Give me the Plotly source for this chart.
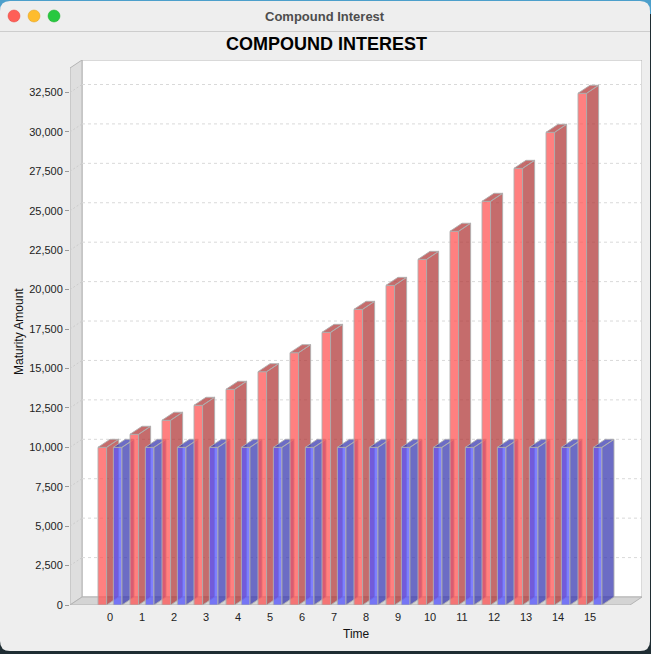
import plotly.graph_objects as go

# ---------------- data ----------------
time_labels = [str(t) for t in range(16)]
time_pos = list(range(16))
compound_values = [10000, 10825, 11715, 12665, 13680, 14795, 16000, 17290,
                   18750, 20270, 21920, 23700, 25600, 27690, 29975, 32450]
principal_values = [10000] * 16
y_ticks = [0, 2500, 5000, 7500, 10000, 12500, 15000, 17500, 20000,
           22500, 25000, 27500, 30000, 32500]

# ---------------- geometry ----------------
W_FIG, H_FIG = 651, 654
L_PX, R_PX, T_PX, B_PX = 70, 642, 60, 605
PW, PH = R_PX - L_PX, B_PX - T_PX
X_RANGE = [-1.25, 16.625]
Y_RANGE = [0, 34560]
XU = PW / (X_RANGE[1] - X_RANGE[0])        # px per x unit
YU = PH / (Y_RANGE[1] - Y_RANGE[0])        # px per y unit
DX = 12 / XU                                # 3D depth offset in data units
DY = 8 / YU
X_FRONT_RIGHT = X_RANGE[1] - DX

def pxx(px):
    return (px - L_PX) / PW

def pxy(py):
    return (B_PX - py) / PH

series = [
    dict(values=compound_values, off=-0.375,
         front="rgba(255,85,85,0.75)", side="rgba(178,59,59,0.75)"),
    dict(values=principal_values, off=0.105,
         front="rgba(85,85,255,0.75)", side="rgba(59,59,178,0.75)"),
]
BW = 0.27
OUTLINE = "rgba(175,175,175,0.9)"
FONT = "Liberation Sans, Arial, sans-serif"

fig = go.Figure()

for k, xp in enumerate(time_pos):
    for s in series:
        v = s["values"][k]
        xl = xp + s["off"]
        xr = xl + BW
        # front face
        fig.add_trace(go.Scatter(
            x=[xl, xr, xr, xl, xl], y=[0, 0, v, v, 0],
            mode="lines", fill="toself", fillcolor=s["front"],
            line=dict(color=OUTLINE, width=1), hoverinfo="skip", showlegend=False))
        # side and top faces
        fig.add_trace(go.Scatter(
            x=[xr, xr + DX, xr + DX, xr, xr, None,
               xl, xr, xr + DX, xl + DX, xl],
            y=[0, DY, v + DY, v, 0, None,
               v, v, v + DY, v + DY, v],
            mode="lines", fill="toself", fillcolor=s["side"],
            line=dict(color=OUTLINE, width=1), hoverinfo="skip", showlegend=False))

shapes = []

# desktop strip + window
shapes.append(dict(type="rect", xref="paper", yref="paper", layer="below",
                   x0=pxx(0), x1=pxx(651), y0=pxy(0), y1=pxy(14),
                   fillcolor="#4c9fcb", line=dict(width=0)))
rxp, ryp = 10 / PW, 10 / PH
wx0, wx1, wy0, wy1 = pxx(0), pxx(650), pxy(651), pxy(1)
path = (f"M {wx0+rxp},{wy1} L {wx1-rxp},{wy1} Q {wx1},{wy1} {wx1},{wy1-ryp} "
        f"L {wx1},{wy0+ryp} Q {wx1},{wy0} {wx1-rxp},{wy0} "
        f"L {wx0+rxp},{wy0} Q {wx0},{wy0} {wx0},{wy0+ryp} "
        f"L {wx0},{wy1-ryp} Q {wx0},{wy1} {wx0+rxp},{wy1} Z")
shapes.append(dict(type="path", xref="paper", yref="paper", layer="below",
                   path=path, fillcolor="#eeeeee", line=dict(width=0)))
shapes.append(dict(type="line", xref="paper", yref="paper", layer="below",
                   x0=pxx(0), x1=pxx(650), y0=pxy(31.5), y1=pxy(31.5),
                   line=dict(color="#cdcdcd", width=1)))
for cx, col, lc in [(14, "#fe5f57", "#e0443e"), (34, "#febc2e", "#dea123"),
                    (54, "#28c840", "#1aab29")]:
    shapes.append(dict(type="circle", xref="paper", yref="paper",
                       x0=pxx(cx - 6), x1=pxx(cx + 6), y0=pxy(22), y1=pxy(10),
                       fillcolor=col, line=dict(color=lc, width=0.5)))

# back wall
shapes.append(dict(type="rect", xref="x", yref="y", layer="below",
                   x0=X_RANGE[0] + DX, x1=X_RANGE[1], y0=DY, y1=Y_RANGE[1],
                   fillcolor="white", line=dict(color="#b4b4b4", width=1)))
# left wall
shapes.append(dict(type="path", xref="x", yref="y", layer="below",
                   path=(f"M {X_RANGE[0]},0 L {X_RANGE[0]},{Y_RANGE[1]-DY} "
                         f"L {X_RANGE[0]+DX},{Y_RANGE[1]} L {X_RANGE[0]+DX},{DY} Z"),
                   fillcolor="#dedede", line=dict(color="#b4b4b4", width=1)))
# floor
shapes.append(dict(type="path", xref="x", yref="y", layer="below",
                   path=(f"M {X_RANGE[0]},0 L {X_FRONT_RIGHT},0 "
                         f"L {X_RANGE[1]},{DY} L {X_RANGE[0]+DX},{DY} Z"),
                   fillcolor="#d4d4d4", line=dict(color="#b4b4b4", width=1)))
# gridlines on back wall + diagonals on left wall
for t in y_ticks[1:]:
    shapes.append(dict(type="line", xref="x", yref="y", layer="below",
                       x0=X_RANGE[0] + DX, x1=X_RANGE[1], y0=t + DY, y1=t + DY,
                       line=dict(color="#d9d9d9", width=1, dash="3px,3px")))
    shapes.append(dict(type="line", xref="x", yref="y", layer="below",
                       x0=X_RANGE[0], x1=X_RANGE[0] + DX, y0=t, y1=t + DY,
                       line=dict(color="#cccccc", width=1, dash="2px,2px")))

annotations = [
    dict(text="Compound Interest", xref="paper", yref="paper",
         x=pxx(325), y=pxy(16), showarrow=False, xanchor="center", yanchor="middle",
         font=dict(family=FONT, size=13, color="#4d4d4d", weight="bold")),
    dict(text="COMPOUND INTEREST", xref="paper", yref="paper",
         x=pxx(326), y=pxy(44), showarrow=False, xanchor="center", yanchor="middle",
         font=dict(family=FONT, size=18, color="#000000", weight="bold")),
    dict(text="Maturity Amount", xref="paper", yref="paper",
         x=pxx(19), y=pxy(332), showarrow=False, textangle=-90,
         xanchor="center", yanchor="middle",
         font=dict(family=FONT, size=12, color="#111111")),
    dict(text="Time", xref="paper", yref="paper",
         x=pxx(356), y=pxy(634), showarrow=False, xanchor="center", yanchor="middle",
         font=dict(family=FONT, size=12, color="#111111")),
]

fig.update_layout(
    width=W_FIG, height=H_FIG, autosize=False,
    margin=dict(l=L_PX, r=W_FIG - R_PX, t=T_PX, b=H_FIG - B_PX, pad=0),
    paper_bgcolor="#1f2d33", plot_bgcolor="rgba(0,0,0,0)",
    showlegend=False, shapes=shapes, annotations=annotations,
    xaxis=dict(range=X_RANGE, tickvals=time_pos, ticktext=time_labels,
               showgrid=False, zeroline=False, showline=False, ticks="",
               ticklabelstandoff=4,
               tickfont=dict(family=FONT, size=11, color="#222222"), fixedrange=True),
    yaxis=dict(range=Y_RANGE, tickvals=y_ticks, tickformat=",",
               showgrid=False, zeroline=False, showline=False,
               ticks="outside", ticklen=4, tickcolor="#999999",
               tickfont=dict(family=FONT, size=11, color="#222222"), fixedrange=True),
)

fig.write_html(
    "out.html",
    config={"displayModeBar": False},
    post_script="document.body.style.margin='0';document.body.style.overflow='hidden';",
)
